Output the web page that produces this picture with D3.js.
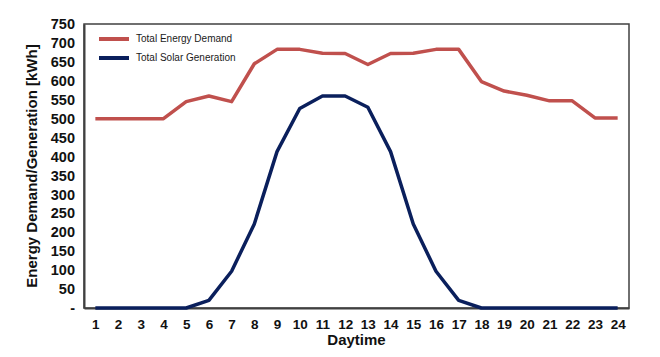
<!DOCTYPE html>
<html>
<head>
<meta charset="utf-8">
<script src="https://cdn.jsdelivr.net/npm/d3@7"></script>
<style>
  body { margin: 0; background: #fff; }
  text { font-family: "Liberation Sans", Arial, sans-serif; }
  .tick text { font-weight: bold; fill: #111; }
  .legend text { font-size: 10px; fill: #1a1a1a; }
</style>
</head>
<body>
<div id="vis"></div>
<script>
// hours of the day
var hours = d3.range(1, 25);
// Total Energy Demand [kWh]
var demand = [500, 500, 500, 500, 545, 560, 545, 645, 683, 683, 673, 672,
              643, 672, 673, 683, 683, 598, 573, 562, 547, 547, 502, 502];
// Total Solar Generation [kWh]
var solar = [0, 0, 0, 0, 0, 20, 97, 222, 413, 527, 560, 560,
             530, 413, 222, 97, 20, 0, 0, 0, 0, 0, 0, 0];
var yTicks = d3.range(0, 751, 50);
var seriesNames = ["Total Energy Demand", "Total Solar Generation"];
var seriesColors = ["#c0504d", "#0a1f5c"];

var fullWidth = 660, fullHeight = 357;
var margin = {top: 24, right: 31, bottom: 49, left: 84};
var width = fullWidth - margin.left - margin.right;
var height = fullHeight - margin.top - margin.bottom;

var x = d3.scalePoint().domain(hours).range([0, width]).padding(0.5);
var y = d3.scaleLinear().domain([0, 750]).range([height, 0]);

var svg = d3.select("#vis").append("svg")
  .attr("width", fullWidth)
  .attr("height", fullHeight);

var g = svg.append("g")
  .attr("transform", "translate(" + margin.left + "," + margin.top + ")");

// frame
g.append("rect")
  .attr("width", width).attr("height", height)
  .attr("fill", "none").attr("stroke", "#404040").attr("stroke-width", 1.5);

// y axis
var yAx = g.append("g")
  .call(d3.axisLeft(y).tickValues(yTicks).tickSize(0).tickPadding(9)
    .tickFormat(function(d) { return d === 0 ? "-" : d; }));
yAx.select(".domain").attr("stroke", "#404040").attr("stroke-width", 2);
yAx.selectAll("text").style("font-size", "14.5px");

// x axis
var xAx = g.append("g")
  .attr("transform", "translate(0," + height + ")")
  .call(d3.axisBottom(x).tickSize(0).tickPadding(11));
xAx.select(".domain").attr("stroke", "#404040").attr("stroke-width", 2);
xAx.selectAll("text").style("font-size", "13.5px");

// axis titles
svg.append("text")
  .attr("transform", "translate(37," + (margin.top + height / 2) + ") rotate(-90)")
  .attr("text-anchor", "middle")
  .style("font-size", "15px").style("font-weight", "bold").attr("fill", "#111")
  .text("Energy Demand/Generation [kWh]");

svg.append("text")
  .attr("x", margin.left + width / 2)
  .attr("y", 345)
  .attr("text-anchor", "middle")
  .style("font-size", "15px").style("font-weight", "bold").attr("fill", "#111")
  .text("Daytime");

// lines
var line = d3.line()
  .x(function(d, i) { return x(hours[i]); })
  .y(function(d) { return y(d); });

[demand, solar].forEach(function(s, k) {
  g.append("path")
    .datum(s)
    .attr("fill", "none")
    .attr("stroke", seriesColors[k])
    .attr("stroke-width", 3.5)
    .attr("stroke-linejoin", "round")
    .attr("d", line);
});

// legend
var legend = g.append("g").attr("class", "legend");
seriesNames.forEach(function(name, k) {
  var ly = 15 + k * 19;
  legend.append("line")
    .attr("x1", 15).attr("x2", 45).attr("y1", ly).attr("y2", ly)
    .attr("stroke", seriesColors[k]).attr("stroke-width", 4);
  legend.append("text")
    .attr("x", 52).attr("y", ly).attr("dy", "0.25em")
    .text(name);
});
</script>
</body>
</html>
